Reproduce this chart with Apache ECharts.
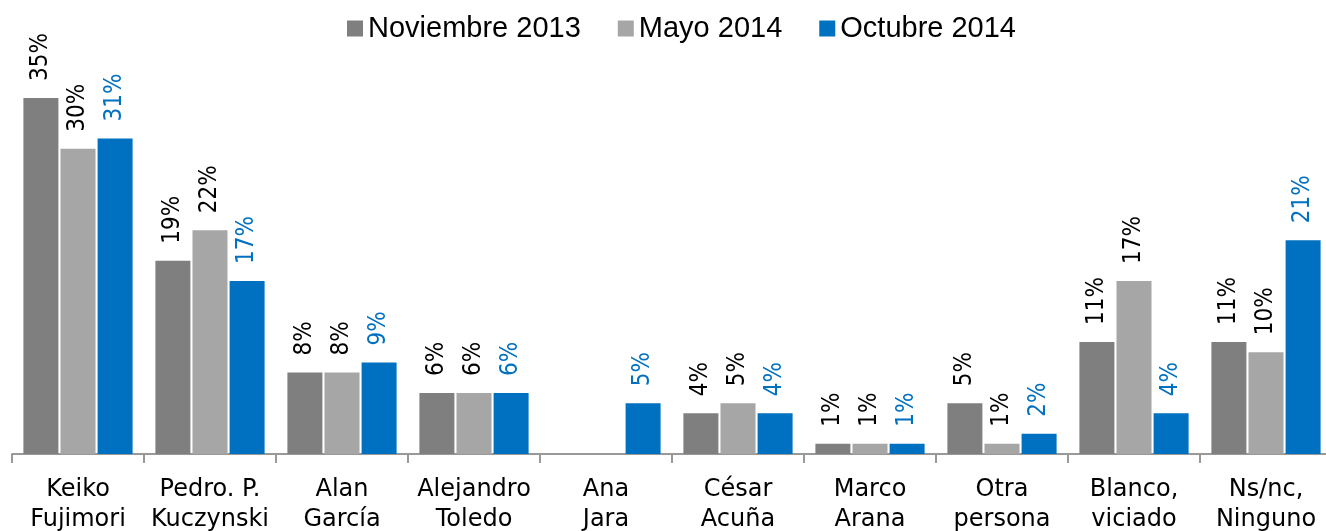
<!DOCTYPE html>
<html>
<head>
<meta charset="utf-8">
<script src="https://cdn.jsdelivr.net/npm/echarts@6/dist/echarts.min.js"></script>
<style>
  html, body { margin: 0; padding: 0; background: #fff; }
  #chart { width: 1326px; height: 531px; }
</style>
</head>
<body>
<div id="chart"></div>
<script>
// candidatos
var categories = ['Keiko\nFujimori', 'Pedro. P.\nKuczynski', 'Alan\nGarcía', 'Alejandro\nToledo', 'Ana\nJara',
    'César\nAcuña', 'Marco\nArana', 'Otra\npersona', 'Blanco,\nviciado', 'Ns/nc,\nNinguno'];
var seriesNames = ['Noviembre 2013', 'Mayo 2014', 'Octubre 2014'];
var nov2013 = [35, 19, 8, 6, null, 4, 1, 5, 11, 11];
var may2014 = [30, 22, 8, 6, null, 5, 1, 1, 17, 10];
var oct2014 = [31, 17, 9, 6, 5, 4, 1, 2, 4, 21];
var colors = ['#7f7f7f', '#a6a6a6', '#0070c0'];

var labelFont = '"DejaVu Sans Condensed", sans-serif';

function barSeries(name, data, color, labelColor) {
    return {
        name: name,
        type: 'bar',
        data: data,
        barWidth: 35,
        barGap: '6%',
        itemStyle: { color: color },
        label: {
            show: true,
            position: 'top',
            rotate: 90,
            align: 'left',
            verticalAlign: 'middle',
            distance: 17,
            fontFamily: labelFont,
            fontSize: 24,
            color: labelColor,
            formatter: '{c}%'
        }
    };
}

var chart = echarts.init(document.getElementById('chart'));
var option = {
    animation: false,
    color: colors,
    legend: {
        top: 9,
        left: 342,
        itemWidth: 16,
        itemHeight: 16,
        itemGap: 37,
        icon: 'rect',
        textStyle: { fontFamily: 'Liberation Sans', fontSize: 29, color: '#000' },
        data: seriesNames
    },
    grid: {
        left: 12,
        right: -6,
        top: 47,
        bottom: 77,
        containLabel: false,
        outerBoundsMode: 'none'
    },
    xAxis: {
        type: 'category',
        data: categories,
        axisLine: { lineStyle: { color: '#999', width: 2 } },
        axisTick: { show: true, length: 9, lineStyle: { color: '#999', width: 2 } },
        axisLabel: {
            fontFamily: 'DejaVu Sans',
            fontSize: 24,
            color: '#000',
            lineHeight: 30,
            margin: 21,
            interval: 0
        }
    },
    yAxis: {
        type: 'value',
        min: 0,
        max: 40,
        show: false,
        splitLine: { show: false }
    },
    series: [
        barSeries(seriesNames[0], nov2013, colors[0], '#000'),
        barSeries(seriesNames[1], may2014, colors[1], '#000'),
        barSeries(seriesNames[2], oct2014, colors[2], '#0070c0')
    ]
};
chart.setOption(option);
</script>
</body>
</html>
